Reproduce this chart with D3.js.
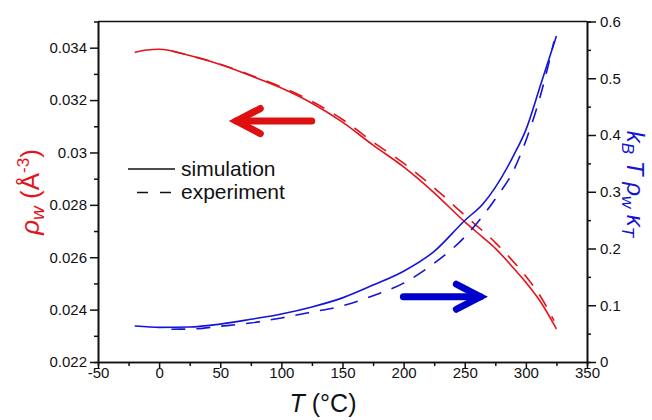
<!DOCTYPE html>
<html>
<head>
<meta charset="utf-8">
<script src="https://cdn.jsdelivr.net/npm/d3@7/dist/d3.min.js"></script>
<style>
  html, body { margin: 0; padding: 0; background: #fff; }
  svg { display: block; }
  svg text { font-family: "Liberation Sans", Arial, sans-serif; }
</style>
</head>
<body>
<svg id="chart" width="652" height="420"></svg>
<script>
// Temperatures (°C) for the simulation curves
const tSim = [-20, -10, 0, 25, 50, 75, 100, 125, 150, 175, 200, 225, 250, 265, 275, 290, 300, 312, 325];
// Water number density from simulation (Å^-3)
const rhoSim = [0.03382, 0.03391, 0.03394, 0.03370, 0.03336, 0.03293, 0.03246, 0.03188, 0.03116, 0.03028,
                0.02945, 0.02846, 0.02735, 0.02675, 0.02634, 0.02558, 0.02504, 0.02430, 0.02326];
// kB T rho_w kappa_T from simulation
const kapSim = [0.0634, 0.0620, 0.0610, 0.0617, 0.0668, 0.0752, 0.0845, 0.0970, 0.1130, 0.1355,
                0.1600, 0.1950, 0.2494, 0.2790, 0.3078, 0.3640, 0.4090, 0.4880, 0.5744];

// Temperatures (°C) for the experimental curves
const tExp = [10, 25, 50, 75, 100, 125, 150, 175, 200, 225, 250, 275, 290, 300, 312, 323];
// Experimental water number density (Å^-3)
const rhoExp = [0.03388, 0.03370, 0.03337, 0.03295, 0.03250, 0.03195, 0.03126, 0.03040, 0.02959,
                0.02865, 0.02760, 0.02656, 0.02582, 0.02527, 0.02450, 0.02358];
// Experimental kB T rho_w kappa_T
const kapExp = [0.0578, 0.0580, 0.0630, 0.0688, 0.0776, 0.0880, 0.0990, 0.1168, 0.1390,
                0.1740, 0.2204, 0.2874, 0.3380, 0.3900, 0.4700, 0.5650];

// Axis tick values
const xTicks = [-50, 0, 50, 100, 150, 200, 250, 300, 350];
const xMinor = [-25, 25, 75, 125, 175, 225, 275, 325];
const yLeftTicks = [0.022, 0.024, 0.026, 0.028, 0.030, 0.032, 0.034];
const yLeftMinor = [0.023, 0.025, 0.027, 0.029, 0.031, 0.033];
const yRightTicks = [0, 0.1, 0.2, 0.3, 0.4, 0.5, 0.6];
const yRightMinor = [0.05, 0.15, 0.25, 0.35, 0.45, 0.55];

const RED = "#e3141c";
const BLUE = "#1414d8";
const INK = "#111";
const FONT = '"Liberation Sans", Arial, sans-serif';

const svg = d3.select("#chart");
const L = 98, R = 587, T = 21.5, B = 362;

const x = d3.scaleLinear().domain([-50, 350]).range([L, R]);
const yL = d3.scaleLinear().domain([0.022, 0.035]).range([B, T]);
const yR = d3.scaleLinear().domain([0, 0.6]).range([B, T]);

const fmt = v => String(+v.toFixed(3));

function styleAxis(g) {
  g.attr("font-family", FONT);
  g.selectAll("path.domain").attr("stroke", INK).attr("stroke-width", 1.6);
  g.selectAll(".tick line").attr("stroke", INK).attr("stroke-width", 1.5);
  g.selectAll("text").attr("font-size", 15).attr("fill", INK);
}

// Minor ticks (no labels)
svg.append("g").attr("transform", `translate(0,${B})`)
  .call(d3.axisBottom(x).tickValues(xMinor).tickSize(4).tickFormat(""))
  .call(styleAxis);
svg.append("g").attr("transform", `translate(${L},0)`)
  .call(d3.axisLeft(yL).tickValues(yLeftMinor).tickSize(4).tickFormat(""))
  .call(styleAxis);
svg.append("g").attr("transform", `translate(${R},0)`)
  .call(d3.axisRight(yR).tickValues(yRightMinor).tickSize(4).tickFormat(""))
  .call(styleAxis);

// Major ticks with labels
svg.append("g").attr("transform", `translate(0,${B})`)
  .call(d3.axisBottom(x).tickValues(xTicks).tickSize(6).tickSizeOuter(0).tickPadding(-1).tickFormat(d => String(d)))
  .call(styleAxis);
svg.append("g").attr("transform", `translate(${L},0)`)
  .call(d3.axisLeft(yL).tickValues(yLeftTicks).tickSize(8).tickSizeOuter(0).tickPadding(3).tickFormat(fmt))
  .call(styleAxis);
svg.append("g").attr("transform", `translate(${R},0)`)
  .call(d3.axisRight(yR).tickValues(yRightTicks).tickSize(9).tickSizeOuter(0).tickPadding(4).tickFormat(fmt))
  .call(styleAxis);

// Top frame line
svg.append("line").attr("x1", L).attr("x2", R).attr("y1", T).attr("y2", T)
  .attr("stroke", INK).attr("stroke-width", 1.6);

// Curves
const plot = svg.append("g");
function drawCurve(ts, vs, yScale, color, dashed) {
  const pts = ts.map((t, i) => [t, vs[i]]);
  plot.append("path")
    .attr("d", d3.line().x(d => x(d[0])).y(d => yScale(d[1])).curve(d3.curveMonotoneX)(pts))
    .attr("fill", "none").attr("stroke", color).attr("stroke-width", 1.6)
    .attr("stroke-dasharray", dashed ? "14,11" : null);
}
drawCurve(tExp, rhoExp, yL, RED, true);
drawCurve(tSim, rhoSim, yL, RED, false);
drawCurve(tExp, kapExp, yR, BLUE, true);
drawCurve(tSim, kapSim, yR, BLUE, false);

// Arrows pointing to the axis each curve belongs to
function arrow(x0, x1, yPix, color) {
  const dir = Math.sign(x1 - x0);
  const apex = x1 - dir * 8;
  const g = svg.append("g").attr("fill", "none").attr("stroke", color)
    .attr("stroke-width", 7).attr("stroke-linecap", "round");
  g.append("line").attr("x1", x0).attr("x2", apex).attr("y1", yPix).attr("y2", yPix);
  g.append("path")
    .attr("d", `M${x1 - dir * 32},${yPix - 12.5}L${apex},${yPix}L${x1 - dir * 32},${yPix + 12.5}`)
    .attr("stroke-linejoin", "miter");
}
arrow(x(124.8), x(56.6), yL(0.0312), "#dd1111");
arrow(x(199.8), x(269.3), yR(0.115), "#0000cc");

// Legend
const leg = svg.append("g").attr("font-family", FONT);
leg.append("line").attr("x1", 128).attr("x2", 175).attr("y1", 169).attr("y2", 169)
  .attr("stroke", INK).attr("stroke-width", 1.6);
leg.append("line").attr("x1", 137).attr("x2", 175).attr("y1", 192.5).attr("y2", 192.5)
  .attr("stroke", INK).attr("stroke-width", 1.6).attr("stroke-dasharray", "11,12");
leg.append("text").attr("x", 181).attr("y", 176).attr("font-size", 21).attr("fill", INK).text("simulation");
leg.append("text").attr("x", 181).attr("y", 199).attr("font-size", 21).attr("fill", INK).text("experiment");

// X axis title
const xt = svg.append("text").attr("x", 323).attr("y", 412).attr("text-anchor", "middle")
  .attr("font-family", FONT).attr("font-size", 25).attr("fill", INK);
xt.append("tspan").attr("font-style", "italic").text("T");
xt.append("tspan").text(" (°C)");

// Left axis title
const yl = svg.append("text").attr("transform", "translate(39,192) rotate(-90)")
  .attr("text-anchor", "middle").attr("font-family", FONT).attr("font-size", 26).attr("fill", RED);
yl.append("tspan").attr("font-style", "italic").text("ρ");
yl.append("tspan").attr("font-style", "italic").attr("font-size", 19).attr("dy", 5).text("w");
yl.append("tspan").attr("dy", -5).text(" (Å");
yl.append("tspan").attr("font-size", 17).attr("dy", -10).text("-3");
yl.append("tspan").attr("dy", 10).text(")");

// Right axis title
const yr = svg.append("text").attr("transform", "translate(627,184) rotate(90)")
  .attr("text-anchor", "middle").attr("font-family", FONT).attr("font-size", 24)
  .attr("fill", BLUE).attr("font-style", "italic");
yr.append("tspan").text("k");
yr.append("tspan").attr("font-size", 17).attr("dy", 5).text("B");
yr.append("tspan").attr("dy", -5).text(" T ");
yr.append("tspan").text("ρ");
yr.append("tspan").attr("font-size", 17).attr("dy", 5).text("w");
yr.append("tspan").attr("dy", -5).text(" κ");
yr.append("tspan").attr("font-size", 17).attr("dy", 5).text("T");
</script>
</body>
</html>
